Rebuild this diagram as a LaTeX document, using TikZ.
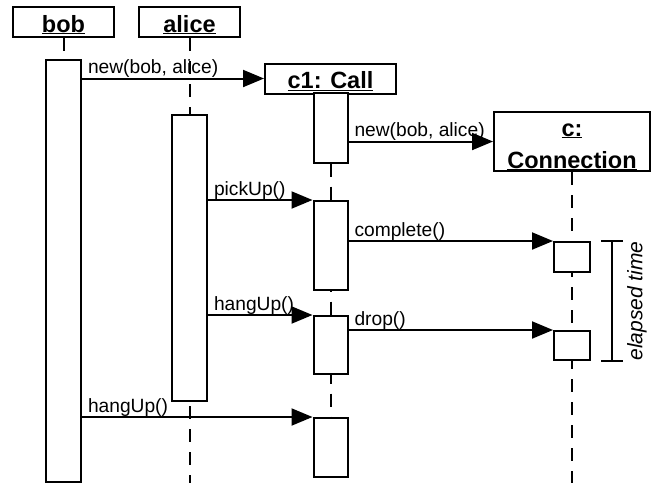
\documentclass[tikz,border=0pt]{standalone}
\usepackage{fontspec}
\setmainfont{Liberation Sans}
\usetikzlibrary{arrows.meta,calc}

\begin{document}
\begin{tikzpicture}[x=1pt, y=-1pt,
  font=\fontsize{19.2}{22}\selectfont,
  obj/.style={draw, line width=2pt, fill=white, inner sep=0pt, align=center,
    text height=20pt, text depth=0pt, font=\fontsize{23.5}{32}\selectfont\bfseries},
  act/.style={draw, line width=2pt, fill=white, minimum width=34pt, inner sep=0pt},
  life/.style={line width=2pt, dash pattern=on 13pt off 10pt},
  msg/.style={-{Triangle[length=21pt, width=17pt]}, line width=2pt},
  lbl/.style={pos=0, anchor=base west, xshift=5pt, yshift=5pt, inner sep=0pt},
  tick/.style={line width=1.6pt},
]
\useasboundingbox (0,0) rectangle (652,483);
% objects along the top
\node[obj, minimum width=101pt, minimum height=30pt] (bob) at (63.5,22) {\underline{bob}};
\node[obj, minimum width=101pt, minimum height=30pt] (alice) at (189.5,22) {\underline{alice}};
\node[obj, minimum width=131pt, minimum height=30pt] (call) at (330.5,78.5) {\underline{c1: Call}};
\node[obj, minimum width=156pt, minimum height=59pt, text height=53pt] (conn) at (572,141.5)
  {\underline{c:}\\\underline{Connection}};

% lifelines, drawn before the activations so these cover them
\coordinate (bottom) at (0,483);
\draw[life] (bob.south) -- (bob.south |- bottom);
\draw[life] (alice.south) -- (alice.south |- bottom);
\draw[life] (call.south) -- (call.south |- bottom);
\draw[life] (conn.south) -- (conn.south |- bottom);

% activations
\node[act, minimum width=35pt, minimum height=422pt] (bobA) at (63.5,271) {};
\node[act, minimum width=35pt, minimum height=286pt] (aliceA) at (189.5,258) {};
\node[act, minimum height=70pt] (callA1) at (330.5,128) {};
\node[act, minimum height=89pt] (callA2) at (330.5,245.5) {};
\node[act, minimum height=58pt] (callA3) at (330.5,345) {};
\node[act, minimum height=59pt] (callA4) at (330.5,447.5) {};
\node[act, minimum width=36pt, minimum height=30pt] (connA1) at (572,257) {};
\node[act, minimum width=36pt, minimum height=29pt] (connA2) at (572,345.5) {};

% messages
\draw[msg] (bobA.east |- call.west) -- node[lbl]{new(bob, alice)} (call.west);
\draw[msg] (callA1.east |- conn.west) -- node[lbl]{new(bob, alice)} (conn.west);
\draw[msg] (aliceA.east |- callA2.north) -- node[lbl]{pickUp()} (callA2.north west);
\draw[msg] (callA2.east |- connA1.north) -- node[lbl]{complete()} (connA1.north west);
\draw[msg] (aliceA.east |- callA3.north) -- node[lbl]{hangUp()} (callA3.north west);
\draw[msg] (callA3.east |- connA2.north) -- node[lbl]{drop()} (connA2.north west);
\draw[msg] (bobA.east |- callA4.north) -- node[lbl]{hangUp()} (callA4.north west);

% elapsed time bracket
\coordinate (et1) at ($(connA1.north east)+(21,0)$);
\coordinate (et2) at ($(connA2.south east)+(21,0)$);
\draw[tick] (et1) -- (et2);
\draw[tick] ([xshift=-11pt]et1) -- ([xshift=11pt]et1);
\draw[tick] ([xshift=-11pt]et2) -- ([xshift=11pt]et2);
\node[rotate=90, inner sep=0pt, font=\fontsize{21}{24}\selectfont\itshape] (elapsed)
  at ($(et1)!0.5!(et2)+(25,0)$) {elapsed time};
\end{tikzpicture}
\end{document}
